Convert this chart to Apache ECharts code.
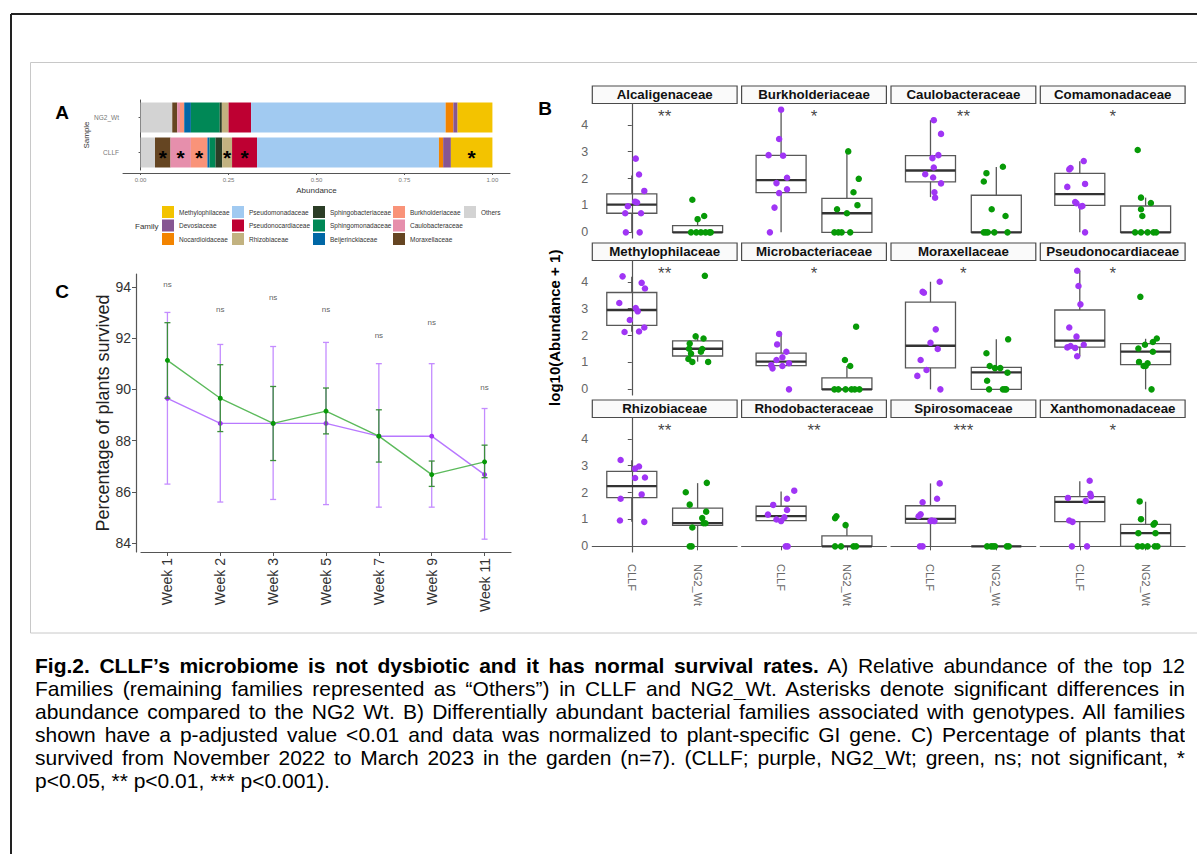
<!DOCTYPE html>
<html><head><meta charset="utf-8">
<script src="https://cdn.jsdelivr.net/npm/echarts@6/dist/echarts.min.js"></script>
<style>
html,body{margin:0;padding:0;background:#fff;}
#chart{position:absolute;left:0;top:0;width:1197px;height:854px;}
#caption{position:absolute;left:35px;top:654px;width:1150px;font-family:"Liberation Sans",Arial,sans-serif;font-size:21px;color:#000;}
#caption div{height:23px;line-height:23px;overflow:hidden;text-align:justify;text-align-last:justify;}
#caption div.last{text-align-last:left;}
</style></head>
<body>
<div id="chart"></div>
<div id="caption">
<div><b>Fig.2. CLLF’s microbiome is not dysbiotic and it has normal survival rates.</b> A) Relative abundance of the top 12</div>
<div>Families (remaining families represented as “Others”) in CLLF and NG2_Wt. Asterisks denote significant differences in</div>
<div>abundance compared to the NG2 Wt. B) Differentially abundant bacterial families associated with genotypes. All families</div>
<div>shown have a p-adjusted value &lt;0.01 and data was normalized to plant-specific GI gene. C) Percentage of plants that</div>
<div>survived from November 2022 to March 2023 in the garden (n=7). (CLLF; purple, NG2_Wt; green, ns; not significant, *</div>
<div class="last">p&lt;0.05, ** p&lt;0.01, *** p&lt;0.001).</div>
</div>
<script>
// ---------- Panel A data ----------
const familiesA = ['Others','Moraxellaceae','Caulobacteraceae','Burkholderiaceae','Beijerinckiaceae','Sphingomonadaceae','Sphingobacteriaceae','Rhizobiaceae','Pseudonocardiaceae','Pseudomonadaceae','Nocardioidaceae','Devosiaceae','Methylophilaceae'];
const colorsA = ['#D3D3D3','#654522','#E68FAC','#F99379','#0067A5','#008856','#2B3D26','#C2B280','#BE0032','#A1CAF1','#F38400','#875692','#F3C300'];
const samplesA = ['CLLF','NG2_Wt'];
const abundCLLF = [0.041,0.044,0.058,0.047,0.006,0.017,0.019,0.028,0.071,0.517,0.012,0.022,0.118];
const abundNG2 = [0.090,0.014,0.008,0.012,0.019,0.082,0.006,0.019,0.064,0.553,0.022,0.012,0.099];
const sigA = ['Moraxellaceae','Caulobacteraceae','Burkholderiaceae','Rhizobiaceae','Pseudonocardiaceae','Methylophilaceae'];
const ticksA = [0,0.25,0.5,0.75,1];
const legendColsA = [
  ['Methylophilaceae','Devosiaceae','Nocardioidaceae'],
  ['Pseudomonadaceae','Pseudonocardiaceae','Rhizobiaceae'],
  ['Sphingobacteriaceae','Sphingomonadaceae','Beijerinckiaceae'],
  ['Burkholderiaceae','Caulobacteraceae','Moraxellaceae'],
  ['Others']
];

// ---------- Panel C data ----------
const weeks = ['Week 1','Week 2','Week 3','Week 5','Week 7','Week 9','Week 11'];
const survCLLF = [89.65,88.67,88.67,88.67,88.17,88.17,86.67];
const errCLLFlo = [86.30,85.60,85.70,85.50,85.40,85.40,84.15];
const errCLLFhi = [93.00,91.75,91.67,91.83,91.00,91.00,89.25];
const survNG2 = [91.13,89.65,88.67,89.15,88.17,86.67,87.17];
const errNG2lo = [89.65,88.35,87.22,88.26,87.16,86.21,86.55];
const errNG2hi = [92.60,90.96,90.11,90.05,89.20,87.20,87.82];
const nsY = [94.10,93.10,93.60,93.10,92.10,92.60,90.07];
const ticksC = [84,86,88,90,92,94];

// ---------- Panel B data ----------
const groupsB = ['CLLF','NG2_Wt'];
const facetNames = ['Alcaligenaceae','Burkholderiaceae','Caulobacteraceae','Comamonadaceae','Methylophilaceae','Microbacteriaceae','Moraxellaceae','Pseudonocardiaceae','Rhizobiaceae','Rhodobacteraceae','Spirosomaceae','Xanthomonadaceae'];
const facetSig = ['**','*','**','*','**','*','*','*','**','**','***','*'];
const sigYB = 4.45;
const ticksB = [0,1,2,3,4];
// box stats [lowerWhisker, q1, median, q3, upperWhisker]
const boxCLLF = [
  [0,0.71,1.03,1.43,2.11],[0,1.48,1.94,2.86,4.56],[1.31,1.88,2.30,2.85,4.17],[0,1.00,1.42,2.19,2.64],
  [2.14,2.38,2.95,3.60,4.19],[0.78,0.88,1.03,1.35,2.06],[0,0.80,1.62,3.24,4.00],[1.23,1.57,1.81,2.95,4.41],
  [0.91,1.81,2.24,2.79,3.20],[0.93,0.96,1.12,1.49,2.04],[0,0.86,1.02,1.51,2.34],[0,0.92,1.65,1.85,2.42]
];
const boxNG2 = [
  [0,0,0,0.25,0.50],[0,0,0.71,1.26,3.01],[0,0,0,1.38,2.43],[0,0,0,0.98,1.29],
  [1.03,1.24,1.51,1.80,1.96],[0,0,0,0.43,0.87],[0,0,0.63,0.82,1.86],[0,0.92,1.40,1.70,1.88],
  [0,0.78,0.86,1.42,2.35],[0,0,0,0.39,0.79],[0,0,0,0,0],[0,0,0.49,0.82,1.66]
];
// jittered points: [horizontal offset, log10(abundance+1)]
const ptsCLLF = [
  [[0.06,2.74],[0.11,2.15],[0.19,1.54],[0.05,1.14],[0.08,1.11],[-0.06,0.97],[-0.10,0.71],[0.14,0.71],[-0.09,0],[0.12,0]],
  [[0,4.56],[-0.03,3.47],[-0.19,2.87],[0.03,2.85],[0.09,2.03],[-0.07,1.83],[0.09,1.60],[-0.03,1.46],[-0.10,0.92],[-0.17,0]],
  [[0.05,4.17],[0.16,3.66],[0.12,2.87],[0.03,2.76],[0.05,2.41],[-0.08,2.16],[0.04,2.04],[0.16,1.82],[0.06,1.49],[0.07,1.29]],
  [[0.06,2.65],[-0.14,2.39],[-0.16,2.34],[0.08,1.80],[-0.19,1.69],[-0.07,1.13],[-0.05,1.08],[0.04,0.98],[0.02,0.96],[0.08,0]],
  [[-0.14,4.20],[0.15,3.96],[0.20,3.75],[-0.19,3.21],[0.06,3.02],[0.09,2.90],[-0.03,2.58],[0.19,2.30],[-0.11,2.13],[0.11,2.15]],
  [[-0.03,2.06],[-0.06,1.67],[0.08,1.40],[0.02,1.19],[-0.07,1.09],[0.12,0.97],[-0.15,0.90],[0.02,0.87],[-0.13,0.78],[0.12,0]],
  [[0.14,4.00],[-0.12,3.63],[-0.10,3.59],[0.08,2.23],[0,1.73],[0.11,1.50],[-0.15,1.09],[-0.06,0.72],[-0.20,0.50],[0.15,0]],
  [[-0.04,4.41],[-0.02,3.84],[0.01,3.16],[-0.16,2.30],[-0.05,1.96],[0.06,1.66],[-0.19,1.56],[-0.14,1.61],[-0.07,1.54],[-0.04,1.23]],
  [[-0.17,3.21],[0.05,2.89],[0.11,2.97],[0.05,2.54],[0.20,2.56],[0.15,1.93],[-0.17,1.77],[-0.18,0.96],[0.19,0.91]],
  [[0.20,2.07],[-0.12,1.54],[0.09,1.77],[0.09,1.35],[-0.20,1.18],[0.05,1.08],[-0.07,1.00],[0,0.94],[0.07,0],[0.10,0]],
  [[0.14,2.34],[0.10,1.77],[-0.12,1.64],[-0.15,1.19],[-0.18,1.12],[0.02,0.96],[0.06,0.94],[0,0.94],[-0.16,0],[-0.12,0]],
  [[0.15,2.44],[0.16,1.95],[0.17,1.86],[-0.18,1.80],[0.09,1.69],[-0.16,0.96],[-0.11,0.91],[-0.12,0],[0.11,0]]
];
const ptsNG2 = [
  [[-0.08,1.21],[0,0.49],[0.10,0.61],[-0.10,0],[-0.02,0],[0.05,0],[0.12,0],[0.18,0],[0.20,0]],
  [[0.02,3.01],[0.18,1.99],[0.10,1.49],[0.16,1.01],[-0.15,0.86],[0,0.71],[-0.19,0],[-0.13,0],[-0.08,0],[0.05,0]],
  [[0.10,2.44],[-0.15,2.20],[-0.19,1.89],[-0.07,0.86],[0.14,0.61],[-0.19,0],[-0.16,0],[-0.13,0],[-0.03,0],[0.17,0]],
  [[-0.12,3.06],[-0.07,1.29],[0.08,1.09],[-0.07,0.86],[-0.05,0.61],[-0.16,0],[-0.07,0],[0.03,0],[0.12,0],[0.16,0]],
  [[0.11,4.22],[-0.03,1.97],[0.09,1.89],[-0.12,1.70],[-0.13,1.51],[0.07,1.50],[0.05,1.40],[-0.10,1.33],[-0.14,1.13],[-0.08,1.02],[0.16,1.02]],
  [[0.14,2.33],[-0.03,1.09],[0.05,0.87],[-0.19,0],[-0.13,0],[-0.02,0],[0.07,0],[0.12,0],[0.19,0]],
  [[0.18,1.86],[-0.15,1.34],[-0.10,0.87],[-0.02,0.79],[0.06,0.79],[0.17,0.62],[-0.14,0.32],[-0.11,0],[0.10,0],[0.13,0],[0.15,0]],
  [[-0.08,3.44],[0.17,1.89],[0.11,1.76],[-0.01,1.66],[-0.11,1.52],[0.11,1.40],[-0.10,1.02],[0.03,0.97],[-0.03,0.87],[0,0.87],[0.09,0]],
  [[0.14,2.36],[-0.18,2.01],[-0.12,1.55],[0.13,1.29],[0.07,1.05],[0.09,0.86],[0.12,0.86],[-0.08,0.70],[-0.12,0],[-0.09,0]],
  [[-0.16,1.12],[-0.18,1.05],[-0.02,0.79],[-0.18,0],[-0.09,0],[0.10,0],[0.14,0]],
  [[-0.14,0],[-0.08,0],[-0.05,0],[-0.02,0],[0.16,0],[0.19,0]],
  [[-0.09,1.67],[-0.07,1.01],[0.14,0.87],[0.12,0.81],[-0.11,0.49],[0.15,0.49],[-0.12,0],[-0.05,0],[0.03,0],[0.14,0],[0.18,0]]
];

// ---------- layout / style constants ----------
const FONT = '"Liberation Sans", Arial, sans-serif';
const PURPLE_PT = '#a035f5', GREEN_PT = '#079a07';
const PURPLE_LINE = '#b878ff', GREEN_LINE = '#5cba5c';
const PURPLE_ERR = '#c48cff', GREEN_ERR = '#3b8f3b';
const AXIS_COL = '#555';
const colLeft = [592.3, 741.6, 891, 1040.3];
const rowTop = [103.5, 260.5, 417.5];
const panelW = 144.8, panelH = 134.5, stripH = 17.5;
const legendXA = [162, 232, 313, 393, 464];

const chart = echarts.init(document.getElementById('chart'), null, {renderer: 'svg'});

const grids = [], xAxes = [], yAxes = [], series = [], legends = [];

// ===== Panel A =====
grids.push({left: 123, top: 100, width: 387, height: 70});
xAxes.push({
  type: 'value', gridIndex: 0, min: -0.05, max: 1.05, offset: 3,
  name: 'Abundance', nameLocation: 'middle', nameGap: 13,
  nameTextStyle: {fontSize: 8, color: '#333'},
  axisLine: {show: true, lineStyle: {color: AXIS_COL}},
  axisTick: {show: true, customValues: ticksA, length: 2, lineStyle: {color: AXIS_COL}},
  axisLabel: {customValues: ticksA, formatter: v => Number(v).toFixed(2), fontSize: 6, color: '#777', margin: 4},
  splitLine: {show: false}
});
yAxes.push({
  type: 'category', gridIndex: 0, data: samplesA,
  name: 'Sample', nameLocation: 'middle', nameGap: 27,
  nameTextStyle: {fontSize: 8, color: '#333'},
  axisLine: {show: true, lineStyle: {color: AXIS_COL}},
  axisTick: {show: true, alignWithLabel: true, length: 2, lineStyle: {color: AXIS_COL}},
  axisLabel: {fontSize: 6.5, color: '#777', margin: 4}
});
familiesA.forEach((fam, i) => {
  const vals = [abundCLLF[i], abundNG2[i]];
  series.push({
    type: 'bar', name: fam, stack: 'A', xAxisIndex: 0, yAxisIndex: 0, barWidth: 30,
    itemStyle: {color: colorsA[i]},
    data: samplesA.map((s, j) => ({
      value: vals[j],
      label: {show: s === 'CLLF' && sigA.includes(fam), formatter: '*', position: 'inside',
              fontSize: 21, fontWeight: 'bold', color: '#000', offset: [0, 5]}
    }))
  });
});
legendColsA.forEach((names, j) => {
  legends.push({
    orient: 'vertical', left: legendXA[j], top: 206, itemWidth: 12, itemHeight: 12, itemGap: 1.5,
    icon: 'rect', data: names, padding: 0, selectedMode: false,
    textStyle: {fontSize: 6.5, color: '#333', fontFamily: FONT}
  });
});

// ===== Panel C =====
grids.push({left: 141, top: 274, width: 370, height: 278});
xAxes.push({
  type: 'category', gridIndex: 1, data: weeks, boundaryGap: true,
  axisLine: {show: true, lineStyle: {color: AXIS_COL, width: 1.2}},
  axisTick: {show: true, alignWithLabel: true, length: 4, lineStyle: {color: AXIS_COL}},
  axisLabel: {rotate: 90, fontSize: 14, color: '#333', margin: 6}
});
yAxes.push({
  type: 'value', gridIndex: 1, min: 83.65, max: 94.5, offset: 5,
  name: 'Percentage of plants survived', nameLocation: 'middle', nameGap: 18,
  nameTextStyle: {fontSize: 18, color: '#222'},
  axisLine: {show: true, lineStyle: {color: AXIS_COL, width: 1.2}},
  axisTick: {show: true, customValues: ticksC, length: 4, lineStyle: {color: AXIS_COL}},
  axisLabel: {customValues: ticksC, fontSize: 14, color: '#333', margin: 5},
  splitLine: {show: false}
});
function errRender(color) {
  return function (params, api) {
    const x = api.value(0);
    const lo = api.coord([x, api.value(1)]);
    const hi = api.coord([x, api.value(2)]);
    const w = 3;
    const st = {stroke: color, lineWidth: 1.3, fill: 'none'};
    return {type: 'group', children: [
      {type: 'line', shape: {x1: lo[0], y1: lo[1], x2: hi[0], y2: hi[1]}, style: st},
      {type: 'line', shape: {x1: lo[0] - w, y1: lo[1], x2: lo[0] + w, y2: lo[1]}, style: st},
      {type: 'line', shape: {x1: hi[0] - w, y1: hi[1], x2: hi[0] + w, y2: hi[1]}, style: st}
    ]};
  };
}
series.push({
  type: 'custom', name: 'CLLF err', xAxisIndex: 1, yAxisIndex: 1, renderItem: errRender(PURPLE_ERR),
  encode: {x: 0, y: [1, 2]}, data: weeks.map((w, i) => [i, errCLLFlo[i], errCLLFhi[i]]), z: 2
});
series.push({
  type: 'line', name: 'CLLF', xAxisIndex: 1, yAxisIndex: 1, data: survCLLF,
  symbol: 'circle', symbolSize: 5, lineStyle: {color: PURPLE_LINE, width: 1.4},
  itemStyle: {color: PURPLE_PT}, z: 3
});
series.push({
  type: 'custom', name: 'NG2_Wt err', xAxisIndex: 1, yAxisIndex: 1, renderItem: errRender(GREEN_ERR),
  encode: {x: 0, y: [1, 2]}, data: weeks.map((w, i) => [i, errNG2lo[i], errNG2hi[i]]), z: 4
});
series.push({
  type: 'line', name: 'NG2_Wt', xAxisIndex: 1, yAxisIndex: 1, data: survNG2,
  symbol: 'circle', symbolSize: 5, lineStyle: {color: GREEN_LINE, width: 1.4},
  itemStyle: {color: GREEN_PT}, z: 5
});
series.push({
  type: 'scatter', name: 'ns', xAxisIndex: 1, yAxisIndex: 1, symbolSize: 1,
  itemStyle: {color: 'rgba(0,0,0,0)'},
  label: {show: true, formatter: 'ns', position: 'inside', fontSize: 8, color: '#333'},
  data: weeks.map((w, i) => [i, nsY[i]]), z: 6
});

// ===== Panel B =====
function boxRender(params, api) {
  const x = api.value(0);
  const pLo = api.coord([x, api.value(1)]);
  const pQ1 = api.coord([x, api.value(2)]);
  const pMed = api.coord([x, api.value(3)]);
  const pQ3 = api.coord([x, api.value(4)]);
  const pHi = api.coord([x, api.value(5)]);
  const half = api.size([0.76, 0])[0] / 2;
  const cx = pLo[0];
  const st = {stroke: '#585858', lineWidth: 1.3, fill: 'none'};
  return {type: 'group', children: [
    {type: 'line', shape: {x1: cx, y1: pHi[1], x2: cx, y2: pQ3[1]}, style: st},
    {type: 'line', shape: {x1: cx, y1: pQ1[1], x2: cx, y2: pLo[1]}, style: st},
    {type: 'rect', shape: {x: cx - half, y: pQ3[1], width: 2 * half, height: pQ1[1] - pQ3[1]}, style: st},
    {type: 'line', shape: {x1: cx - half, y1: pMed[1], x2: cx + half, y2: pMed[1]}, style: {stroke: '#333', lineWidth: 2.3}}
  ]};
}
facetNames.forEach((fam, f) => {
  const g = f + 2;
  const c = f % 4, r = Math.floor(f / 4);
  grids.push({left: colLeft[c], top: rowTop[r], width: panelW, height: panelH});
  xAxes.push({
    type: 'value', gridIndex: g, min: -0.6, max: 1.6,
    axisLine: {show: r === 2, lineStyle: {color: AXIS_COL, width: 1.2}},
    axisTick: {show: r === 2, customValues: [0, 1], length: 4, lineStyle: {color: AXIS_COL}},
    axisLabel: {show: r === 2, customValues: [0, 1], formatter: v => groupsB[Math.round(v)],
                rotate: -90, fontSize: 11, color: '#666', margin: 12},
    splitLine: {show: false}
  });
  const ya = {
    type: 'value', gridIndex: g, min: -0.21, max: 4.79,
    axisLine: {show: c === 0, lineStyle: {color: AXIS_COL, width: 1.2}},
    axisTick: {show: c === 0, customValues: ticksB, length: 4, lineStyle: {color: AXIS_COL}},
    axisLabel: {show: c === 0, customValues: ticksB, fontSize: 12.5, color: '#666', margin: 4},
    splitLine: {show: false}
  };
  if (f === 4) {
    ya.name = 'log10(Abundance + 1)';
    ya.nameLocation = 'middle';
    ya.nameGap = 30;
    ya.nameTextStyle = {fontSize: 15, fontWeight: 'bold', color: '#000'};
  }
  yAxes.push(ya);
  series.push({
    type: 'custom', name: fam + ' box', xAxisIndex: g, yAxisIndex: g, renderItem: boxRender,
    encode: {x: 0, y: [1, 2, 3, 4, 5]},
    data: [[0].concat(boxCLLF[f]), [1].concat(boxNG2[f])], z: 2
  });
  series.push({
    type: 'scatter', name: fam + ' CLLF', xAxisIndex: g, yAxisIndex: g, symbolSize: 6.5,
    itemStyle: {color: PURPLE_PT, opacity: 1},
    data: ptsCLLF[f].map(p => [0 + p[0], p[1]]), z: 3
  });
  series.push({
    type: 'scatter', name: fam + ' NG2_Wt', xAxisIndex: g, yAxisIndex: g, symbolSize: 6.5,
    itemStyle: {color: GREEN_PT, opacity: 1},
    data: ptsNG2[f].map(p => [1 + p[0], p[1]]), z: 3
  });
  series.push({
    type: 'scatter', name: fam + ' sig', xAxisIndex: g, yAxisIndex: g, symbolSize: 1,
    itemStyle: {color: 'rgba(0,0,0,0)'},
    label: {show: true, formatter: facetSig[f], position: 'inside', fontSize: 17, color: '#111', offset: [0, 4]},
    data: [[0.5, sigYB]], z: 4
  });
});

// ===== decorations =====
const graphics = [
  {type: 'line', shape: {x1: 11, y1: 14, x2: 1197, y2: 14}, style: {stroke: '#222', lineWidth: 2}},
  {type: 'line', shape: {x1: 11, y1: 14, x2: 11, y2: 854}, style: {stroke: '#222', lineWidth: 2}},
  {type: 'rect', shape: {x: 30.5, y: 62.5, width: 1190, height: 570.5}, style: {stroke: '#c8c8c8', lineWidth: 1, fill: 'none'}},
  {type: 'text', x: 62, y: 112, style: {text: 'A', font: 'bold 19px ' + FONT, fill: '#000', textAlign: 'center', textVerticalAlign: 'middle'}},
  {type: 'text', x: 545, y: 108, style: {text: 'B', font: 'bold 19px ' + FONT, fill: '#000', textAlign: 'center', textVerticalAlign: 'middle'}},
  {type: 'text', x: 62, y: 291, style: {text: 'C', font: 'bold 19px ' + FONT, fill: '#000', textAlign: 'center', textVerticalAlign: 'middle'}},
  {type: 'text', x: 135, y: 226, style: {text: 'Family', font: '8px ' + FONT, fill: '#333', textAlign: 'left', textVerticalAlign: 'middle'}}
];
facetNames.forEach((fam, f) => {
  const c = f % 4, r = Math.floor(f / 4);
  graphics.push({type: 'rect', shape: {x: colLeft[c], y: rowTop[r] - stripH, width: panelW, height: stripH},
    style: {fill: '#fafafa', stroke: '#4a4a4a', lineWidth: 1.2}});
  graphics.push({type: 'text', x: colLeft[c] + panelW / 2, y: rowTop[r] - stripH / 2,
    style: {text: fam, font: 'bold 13.3px ' + FONT, fill: '#111', textAlign: 'center', textVerticalAlign: 'middle'}});
});

chart.setOption({
  animation: false,
  backgroundColor: '#fff',
  textStyle: {fontFamily: FONT},
  grid: grids, xAxis: xAxes, yAxis: yAxes, series: series, legend: legends,
  graphic: graphics
});
</script>
</body></html>
